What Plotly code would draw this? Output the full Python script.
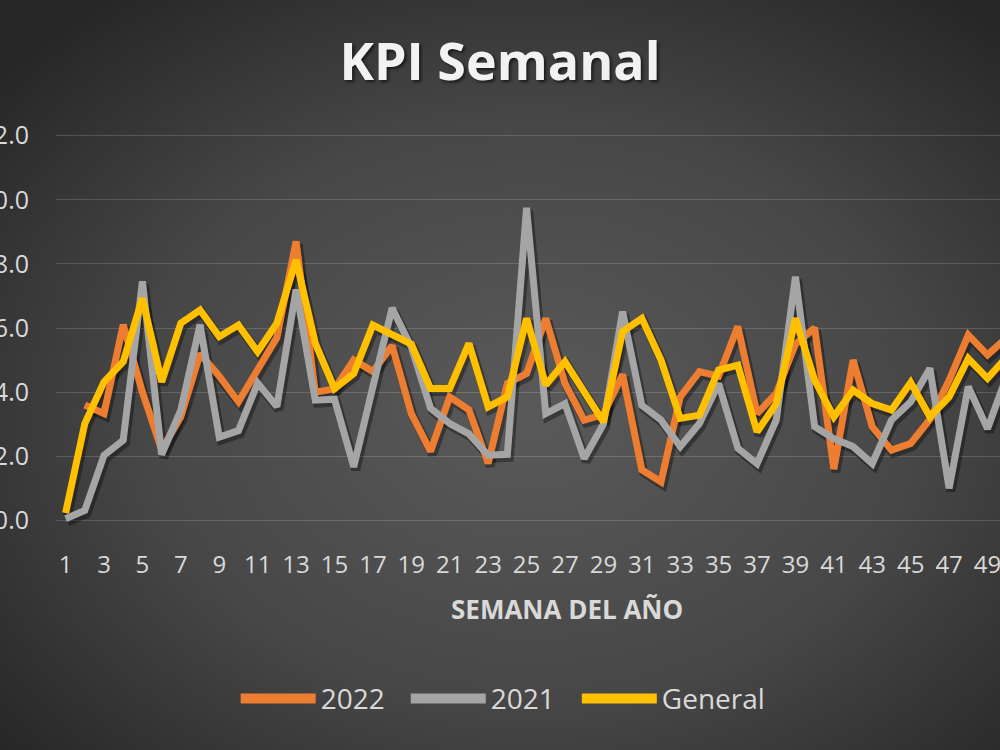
import base64
import plotly.graph_objects as go

weeks = list(range(1, 51))
s2022 = [None, 3.6, 3.33, 6.1, 4.0, 2.2, 3.23, 5.2, 4.5, 3.7,
         4.7, 5.7, 8.7, 4.0, 4.1, 5.0, 4.64, 5.45, 3.33, 2.15,
         3.85, 3.45, 1.78, 4.27, 4.58, 6.3, 4.27, 3.13, 3.3, 4.55,
         1.58, 1.2, 3.85, 4.64, 4.5, 6.05, 3.33, 3.96, 5.5, 6.0,
         1.6, 5.0, 2.92, 2.19, 2.4, 3.15, 4.37, 5.78, 5.16, 5.7]
s2021 = [0.05, 0.31, 2.03, 2.5, 7.45, 2.05, 3.44, 6.1, 2.6, 2.8,
         4.28, 3.55, 7.2, 3.75, 3.78, 1.67, 4.17, 6.62, 5.4, 3.5,
         3.02, 2.7, 2.03, 2.06, 9.75, 3.33, 3.64, 1.93, 3.0, 6.51,
         3.59, 3.13, 2.3, 3.02, 4.27, 2.25, 1.77, 3.13, 7.6, 2.92,
         2.55, 2.3, 1.77, 3.13, 3.7, 4.74, 1.0, 4.17, 2.86, 4.5]
general = [0.23, 3.02, 4.32, 4.95, 6.93, 4.32, 6.15, 6.56, 5.73, 6.09,
           5.26, 6.15, 8.13, 5.52, 4.11, 4.58, 6.09, 5.78, 5.5, 4.11,
           4.11, 5.52, 3.54, 3.85, 6.3, 4.22, 4.95, 4.01, 3.07, 5.89,
           6.3, 5.0, 3.18, 3.28, 4.69, 4.84, 2.76, 3.64, 6.3, 4.37,
           3.23, 4.06, 3.64, 3.44, 4.3, 3.23, 3.85, 5.05, 4.43, 5.1]
series = [("2022", s2022, "#ED7D31"), ("2021", s2021, "#A5A5A5"), ("General", general, "#FFC000")]
xtick_vals = list(range(1, 52, 2))
ytick_vals = [0, 2, 4, 6, 8, 10, 12]

W, H = 1000, 750
L, R, T, B = 56.4, 0, 126.4, 220.4
pw, ph = W - L - R, H - T - B
xr = [0.5, 49.65]
yr = [-0.3, 12.3]
xpx = pw / (xr[1] - xr[0])
ypx = ph / (yr[1] - yr[0])

def px_x(p):
    return (p - L) / pw

def px_y(p):
    return (H - B - p) / ph

FONT = "Open Sans, sans-serif"
TXT = "#d9d9d9"

fig = go.Figure()
svg = ('<svg xmlns="http://www.w3.org/2000/svg" width="1000" height="750">'
       '<defs><radialGradient id="g" cx="53%" cy="55%" r="70%">'
       '<stop offset="0%" stop-color="#5a5a5a"/><stop offset="55%" stop-color="#474747"/>'
       '<stop offset="100%" stop-color="#262626"/></radialGradient></defs>'
       '<rect width="1000" height="750" fill="url(#g)"/></svg>')
src = "data:image/svg+xml;base64," + base64.b64encode(svg.encode()).decode()

legend_ids = ["legend", "legend2", "legend3"]
legend_px = [240, 410, 581]

# legend entries live on the base axes so those axes are drawn
for (name, vals, col), lg in zip(series, legend_ids):
    fig.add_trace(go.Scatter(x=[None], y=[None], mode="lines", legend=lg,
                             line=dict(color=col, width=10), name=name, showlegend=True))
# shadows (offset overlay axes)
for name, vals, col in series:
    fig.add_trace(go.Scatter(x=weeks, y=vals, mode="lines", xaxis="x2", yaxis="y2",
                             line=dict(color="rgba(0,0,0,0.35)", width=9),
                             showlegend=False, hoverinfo="skip"))
for name, vals, col in series:
    fig.add_trace(go.Scatter(x=weeks, y=vals, mode="lines", xaxis="x3", yaxis="y3",
                             line=dict(color=col, width=7), showlegend=False, name=name))

dx = 2 / xpx
dy = 3 / ypx
hidden = dict(visible=False, showgrid=False, zeroline=False)
legends = {}
for lg, lx in zip(legend_ids, legend_px):
    legends[lg] = dict(orientation="h", x=px_x(lx - 4), xanchor="left", y=px_y(698),
                       yanchor="middle", font=dict(family=FONT, size=28, color=TXT),
                       itemwidth=75, bgcolor="rgba(0,0,0,0)")
fig.update_layout(
    width=W, height=H,
    margin=dict(l=L, r=R, t=T, b=B, autoexpand=False),
    paper_bgcolor="#3c3c3c",
    plot_bgcolor="rgba(0,0,0,0)",
    images=[dict(source=src, xref="paper", yref="paper", x=px_x(0), y=px_y(0),
                 sizex=W / pw, sizey=H / ph, xanchor="left", yanchor="top",
                 sizing="stretch", layer="below")],
    title=dict(text="<b>KPI Semanal</b>", x=0.5, xref="container", xanchor="center",
               y=1 - 62 / H, yref="container", yanchor="middle",
               font=dict(family=FONT, size=52, color="#f2f2f2",
                         shadow="2px 2px 3px rgba(0,0,0,0.6)")),
    xaxis=dict(range=xr, tickvals=xtick_vals, showgrid=False, zeroline=False,
               showline=False, ticks="", tickfont=dict(family=FONT, size=24, color=TXT),
               ticklabelstandoff=18, automargin=False, ticklabeloverflow="allow"),
    yaxis=dict(range=yr, tickvals=ytick_vals, tickformat=".1f", showgrid=True,
               gridcolor="rgba(255,255,255,0.16)", gridwidth=1, zeroline=False,
               showline=False, ticks="", tickfont=dict(family=FONT, size=25, color=TXT),
               ticklabelstandoff=26, automargin=False, ticklabeloverflow="allow"),
    xaxis2=dict(overlaying="x", range=[xr[0] - dx, xr[1] - dx], **hidden),
    yaxis2=dict(overlaying="y", range=[yr[0] + dy, yr[1] + dy], **hidden),
    xaxis3=dict(overlaying="x", range=xr, **hidden),
    yaxis3=dict(overlaying="y", range=yr, **hidden),
    showlegend=True,
    annotations=[dict(text="<b>SEMANA DEL AÑO</b>", x=px_x(567), y=px_y(608),
                      xref="paper", yref="paper", showarrow=False,
                      xanchor="center", yanchor="middle",
                      font=dict(family=FONT, size=26, color=TXT))],
    **legends,
)
fig.write_html("out.html")
